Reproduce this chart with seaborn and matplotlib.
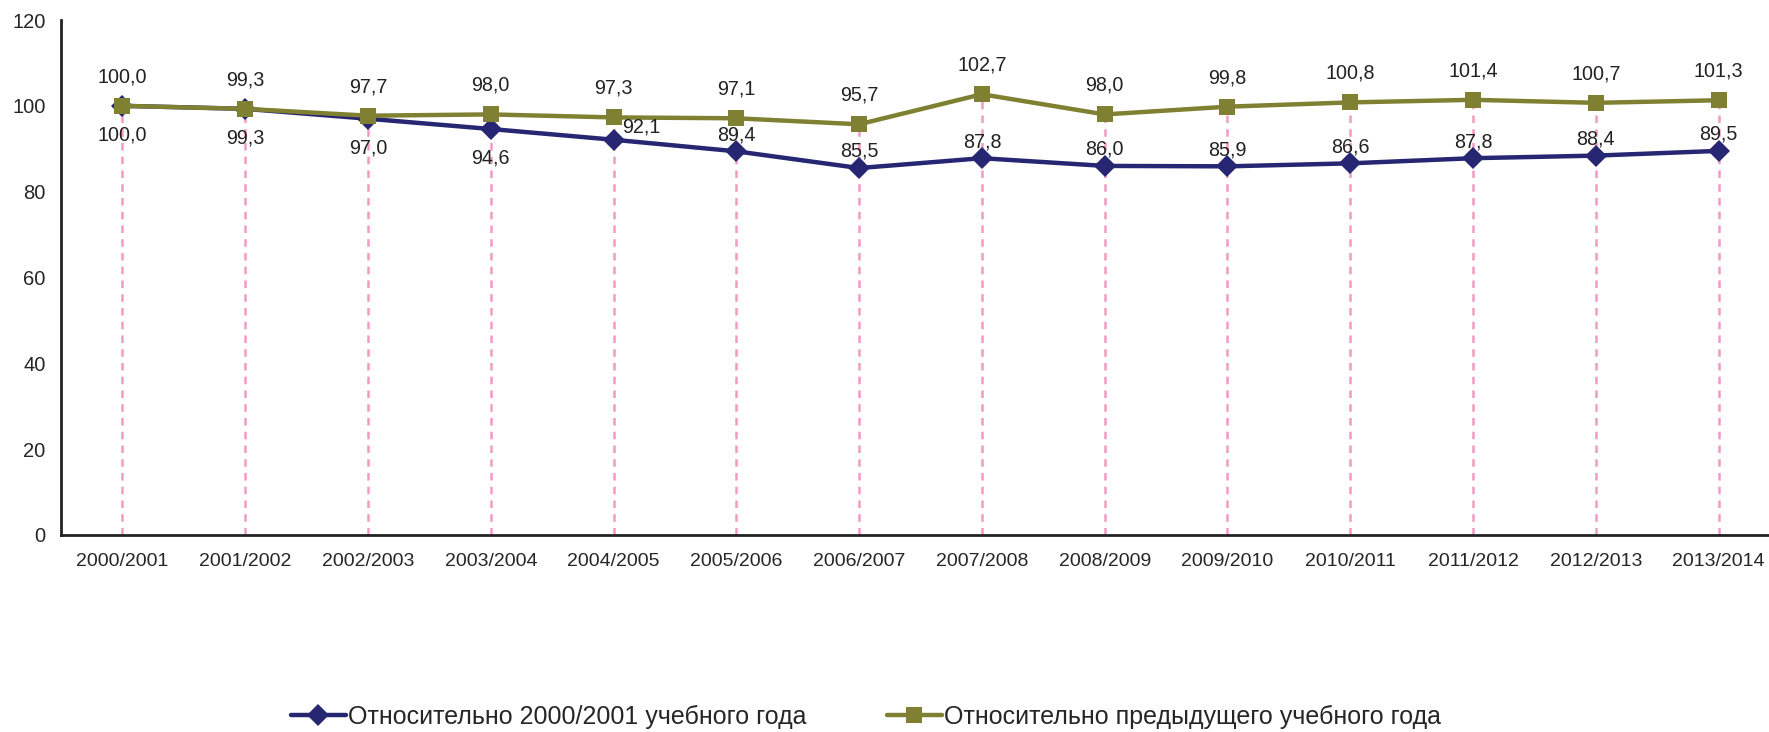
import pandas as pd
import matplotlib.pyplot as plt
import seaborn as sns

# Data
years = ['2000/2001', '2001/2002', '2002/2003', '2003/2004', '2004/2005', '2005/2006', '2006/2007',
         '2007/2008', '2008/2009', '2009/2010', '2010/2011', '2011/2012', '2012/2013', '2013/2014']
base_year = [100.0, 99.3, 97.0, 94.6, 92.1, 89.4, 85.5, 87.8, 86.0, 85.9, 86.6, 87.8, 88.4, 89.5]
prev_year = [100.0, 99.3, 97.7, 98.0, 97.3, 97.1, 95.7, 102.7, 98.0, 99.8, 100.8, 101.4, 100.7, 101.3]
name_base = 'Относительно 2000/2001 учебного года'
name_prev = 'Относительно предыдущего учебного года'

# where the labels of the first series go
base_label_pos = ['below'] * 4 + ['right'] + ['above'] * 9

BLUE = '#262672'
OLIVE = '#808033'
PINK = '#F29BC3'

sns.set_style('white')
plt.rcParams['font.family'] = ['Liberation Sans', 'DejaVu Sans']

df = pd.DataFrame({'year': years * 2,
                   'value': base_year + prev_year,
                   'series': [name_base] * len(years) + [name_prev] * len(years)})

fig = plt.figure(figsize=(17.69, 7.32), dpi=100)
ax = fig.add_axes([61 / 1769, 197 / 732, (1780 - 61) / 1769, 515 / 732])

# pink drop lines
x = list(range(len(years)))
ax.vlines(x, 0, prev_year, colors=PINK, linestyles=(0, (3, 2.5)), lw=1.8, zorder=1)

sns.lineplot(data=df, x='year', y='value', hue='series', style='series',
             palette=[BLUE, OLIVE], markers=['D', 's'], dashes=False,
             markersize=11, linewidth=3.2, markeredgewidth=0, ax=ax, zorder=3)

txt = dict(ha='center', va='center', fontsize=14.2, color='#222222', textcoords='offset points')
for i, v in enumerate(prev_year):
    ax.annotate(f'{v:.1f}'.replace('.', ','), (i, v), xytext=(0, 21), **txt)
for i, v in enumerate(base_year):
    offs = {'below': (0, -21), 'above': (0, 12), 'right': (20, 9)}[base_label_pos[i]]
    ax.annotate(f'{v:.1f}'.replace('.', ','), (i, v), xytext=offs, **txt)

ax.set_xlim(-0.5, len(years) - 0.5)
ax.set_ylim(0, 120)
ax.set_yticks(range(0, 121, 20))
ax.set_xticks(x)
ax.set_xticklabels(years, fontsize=14)
ax.set_xticks([i - 0.5 for i in range(len(years) + 1)], minor=True)
ax.tick_params(axis='x', which='major', length=0, pad=13)
ax.tick_params(axis='x', which='minor', length=6, width=2, direction='out', color='#222222')
ax.tick_params(axis='y', length=6, width=2, direction='out', color='#222222', labelsize=14.5, pad=5)
ax.set_xlabel('')
ax.set_ylabel('')
for s in ['top', 'right']:
    ax.spines[s].set_visible(False)
for s in ['left', 'bottom']:
    ax.spines[s].set_linewidth(2)
    ax.spines[s].set_color('#222222')

ax.legend(loc='center', bbox_to_anchor=(866 / 1769, 1 - 717 / 732), bbox_transform=fig.transFigure,
          ncol=2, frameon=False, fontsize=18, handlelength=2.2, handletextpad=0.1, columnspacing=3.2,
          title=None)

fig.savefig('out.png', dpi=100)
